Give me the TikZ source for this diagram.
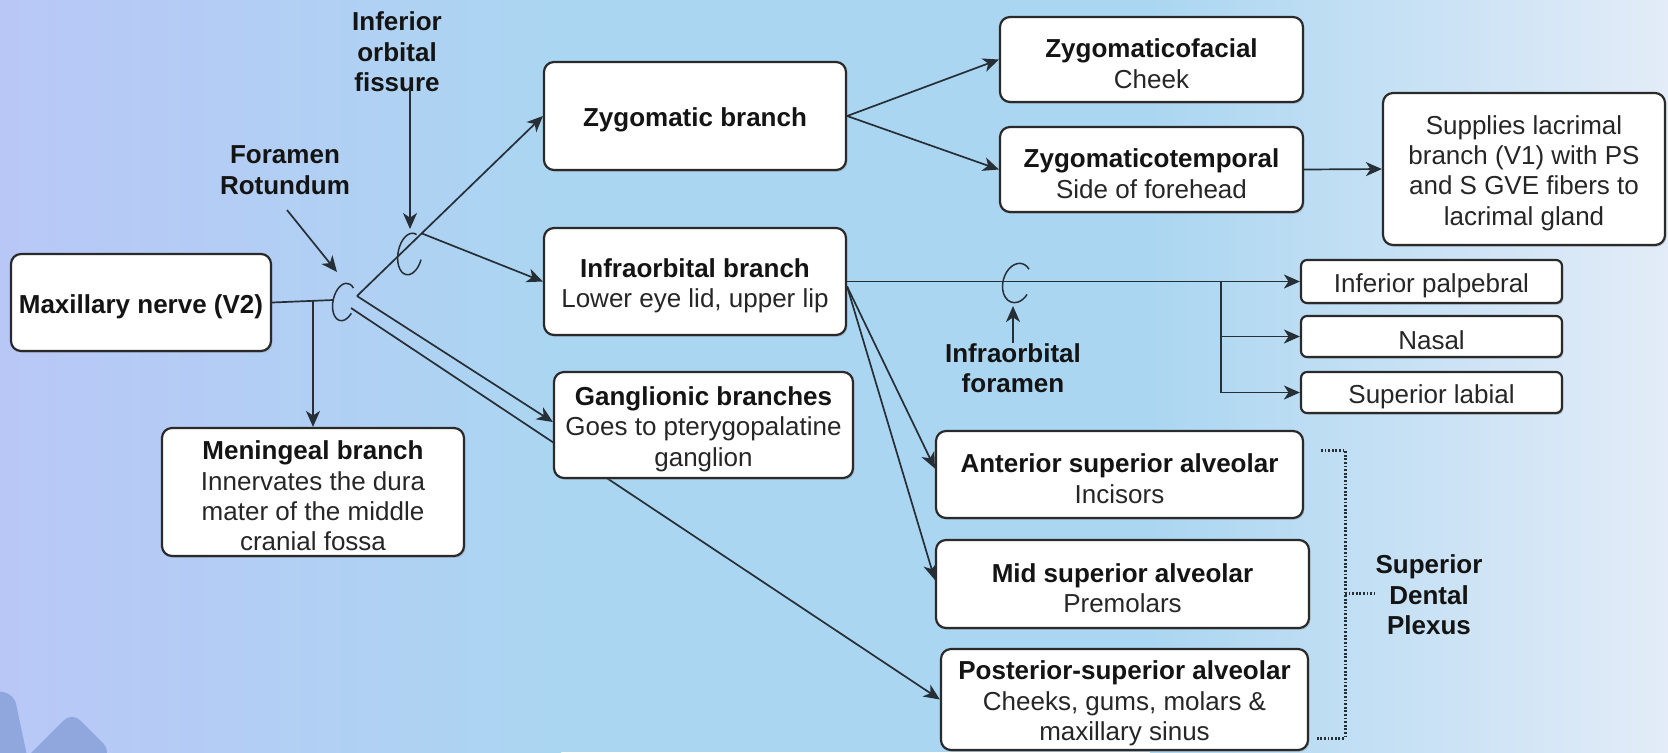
\documentclass[tikz,border=0pt]{standalone}
\usepackage{fontspec}
\setmainfont{Liberation Sans}
\usetikzlibrary{arrows.meta,shadows,calc}
\pgfdeclarelayer{bg}
\pgfdeclarelayer{back}
\pgfsetlayers{bg,back,main}

\definecolor{bgA}{HTML}{B9C7F7}
\definecolor{bgB}{HTML}{ABD6F1}
\definecolor{bgC}{HTML}{E3ECF8}
\definecolor{blob}{HTML}{8FA7DC}
\definecolor{ink}{HTML}{141414}
\definecolor{sub}{HTML}{262626}
\definecolor{edge}{HTML}{2A2A2A}
\definecolor{wire}{HTML}{262E36}

\newcommand{\hd}[1]{{\bfseries\color{ink}#1}}
% a framed panel: #1 frame options, #2 name, #3 centre, #4 text (set a little low)
\newcommand{\panel}[4]{%
  \node[#1] (#2) at (#3) {};
  \node[paneltext] (#2-t) at ([yshift=-2pt]#2.center) {#4};}

\begin{document}
\begin{tikzpicture}[x=0.5pt,y=-0.5pt,
  font=\fontsize{13}{15.2}\selectfont,
  box/.style={draw=edge, line width=1.1pt, fill=white, rounded corners=5pt,
    inner sep=0pt,
    drop shadow={shadow xshift=0.7pt,shadow yshift=-0.9pt,opacity=0.3}},
  tag/.style={box, rounded corners=3pt},
  paneltext/.style={align=center, inner sep=0pt, text=sub},
  lbl/.style={align=center, inner sep=0pt,
    font=\fontsize{13}{15.2}\selectfont\bfseries, text=ink},
  wire/.style={draw=wire, line width=0.85pt},
  arr/.style={wire, -{Stealth[length=8pt,width=7pt,inset=2.3pt]}},
  ring/.style={draw=wire, line width=0.75pt},
  plexus/.style={draw=wire, line width=1.5pt, dash pattern=on 0.9pt off 0.9pt}
]
\useasboundingbox (0,0) rectangle (1668,752);

% background wash and corner shapes
\begin{pgfonlayer}{bg}
  \fill[left color=bgA, right color=bgB] (0,0) rectangle (561,752);
  \fill[bgB] (560,0) rectangle (1151,752);
  \fill[left color=bgB, right color=bgC] (1150,0) rectangle (1668,752);
  \begin{scope}
    \clip (0,0) rectangle (1668,752);
    \fill[blob, rounded corners=5pt] (-20,688) -- (14,694) -- (30,770) -- (-20,770) -- cycle;
    \fill[blob, rounded corners=6pt] (12,772) -- (72,712) -- (112,752) -- (92,772) -- cycle;
  \end{scope}
\end{pgfonlayer}

% panels
\panel{box, minimum width=130pt, minimum height=48.5pt}{max}{141,302.5}{\hd{Maxillary nerve (V2)}}
\panel{box, minimum width=151pt, minimum height=64pt}{men}{313,492}
  {\hd{Meningeal branch}\\Innervates the dura\\mater of the middle\\cranial fossa}
\panel{box, minimum width=151pt, minimum height=54pt}{zyg}{695,116}{\hd{Zygomatic branch}}
\panel{box, minimum width=151pt, minimum height=53.5pt}{infra}{695,281.5}
  {\hd{Infraorbital branch}\\Lower eye lid, upper lip}
\panel{box, minimum width=149.5pt, minimum height=53pt}{gang}{703.5,425}
  {\hd{Ganglionic branches}\\Goes to pterygopalatine\\ganglion}
\panel{box, minimum width=151.5pt, minimum height=42.5pt}{zf}{1151.5,59.5}
  {\hd{Zygomaticofacial}\\Cheek}
\panel{box, minimum width=151.5pt, minimum height=42.5pt}{zt}{1151.5,169.5}
  {\hd{Zygomaticotemporal}\\Side of forehead}
\panel{box, minimum width=141pt, minimum height=76pt}{lac}{1524,169}
  {Supplies lacrimal\\branch (V1) with PS\\and S GVE fibers to\\lacrimal gland}
\panel{tag, minimum width=130.5pt, minimum height=21.5pt}{ip}{1431.5,281.5}{Inferior palpebral}
\panel{tag, minimum width=130.5pt, minimum height=20.5pt}{nas}{1431.5,336.5}{Nasal}
\panel{tag, minimum width=130.5pt, minimum height=20.5pt}{sl}{1431.5,392.5}{Superior labial}
\panel{box, minimum width=183.5pt, minimum height=43.5pt}{asa}{1119.5,474.5}
  {\hd{Anterior superior alveolar}\\Incisors}
\panel{box, minimum width=186.5pt, minimum height=44pt}{msa}{1122.5,584}
  {\hd{Mid superior alveolar}\\Premolars}
\panel{box, minimum width=183.5pt, minimum height=50.5pt}{psa}{1124.5,699.5}
  {\hd{Posterior-superior alveolar}\\Cheeks, gums, molars \&\\maxillary sinus}

% free labels
\node[lbl] (fr) at (285,170) {Foramen\\Rotundum};
\node[lbl] (iof) at (397,52) {Inferior\\orbital\\fissure};
\node[lbl] (iofo) at (1013,368) {Infraorbital\\foramen};
\node[lbl] (sdp) at (1429,595) {Superior\\Dental\\Plexus};

% junctions and pointer ends
\coordinate (c1in) at (333,300);
\coordinate (j0) at (313,300.8);
\coordinate (o1) at (357,296);
\coordinate (o2) at (351,308);
\coordinate (j2) at ($(o1)!0.348!(zyg.west)$);
\coordinate (frtail) at (287,210);
\coordinate (frtip) at (337,272);
\coordinate (ioftail) at (410,89);
\coordinate (ioftip) at (410,229);
\coordinate (iofotip) at (1013,306);
\coordinate (br) at (1221,281.5);

% the nerve passing through the foramina
\begin{scope}[shift={(344,302)}, rotate=-12]
  \draw[ring] (55:5.5pt and 9.5pt) arc[start angle=55, end angle=330, x radius=5.5pt, y radius=9.5pt];
\end{scope}
\begin{scope}[shift={(410,254)}, rotate=-10]
  \draw[ring] (75:6pt and 10.5pt) arc[start angle=75, end angle=350, x radius=6pt, y radius=10.5pt];
\end{scope}
\begin{scope}[shift={(1017,283)}, rotate=-15]
  \draw[ring] (55:7pt and 10pt) arc[start angle=55, end angle=335, x radius=7pt, y radius=10pt];
\end{scope}

% connectors
\draw[wire] (max.east) -- (c1in);
\draw[arr] (j0) -- (j0 |- men.north);
\draw[arr] (o1) -- (zyg.west);
\draw[arr] (j2) -- (infra.west);
\draw[arr] (o1) -- ([yshift=1.5pt]gang.west);
\begin{pgfonlayer}{back}
  \draw[arr] (o2) -- (psa.west);
\end{pgfonlayer}
\draw[arr] (zyg.east) -- (zf.west);
\draw[arr] (zyg.east) -- (zt.west);
\draw[arr] (zt.east) -- (lac.west);
\draw[arr] (infra.east) -- (ip.west);
\draw[arr] (br) |- (sl.west);
\draw[arr] (br |- nas.west) -- (nas.west);
\draw[arr] ([yshift=-2.5pt]infra.east) -- ([yshift=3pt]asa.west);
\draw[arr] ([yshift=-2.5pt]infra.east) -- ([yshift=2pt]msa.west);

% pointers from the free labels
\draw[arr] (frtail) -- (frtip);
\draw[arr] (ioftail) -- (ioftip);
\draw[arr] (iofo.north) -- (iofotip);

% bracket grouping the alveolar branches
\draw[plexus] (1321,450) -- (1345,450) -- (1345,738) -- (1317,738);
\draw[plexus] (1345,593) -- (1374,593);
\end{tikzpicture}
\end{document}
